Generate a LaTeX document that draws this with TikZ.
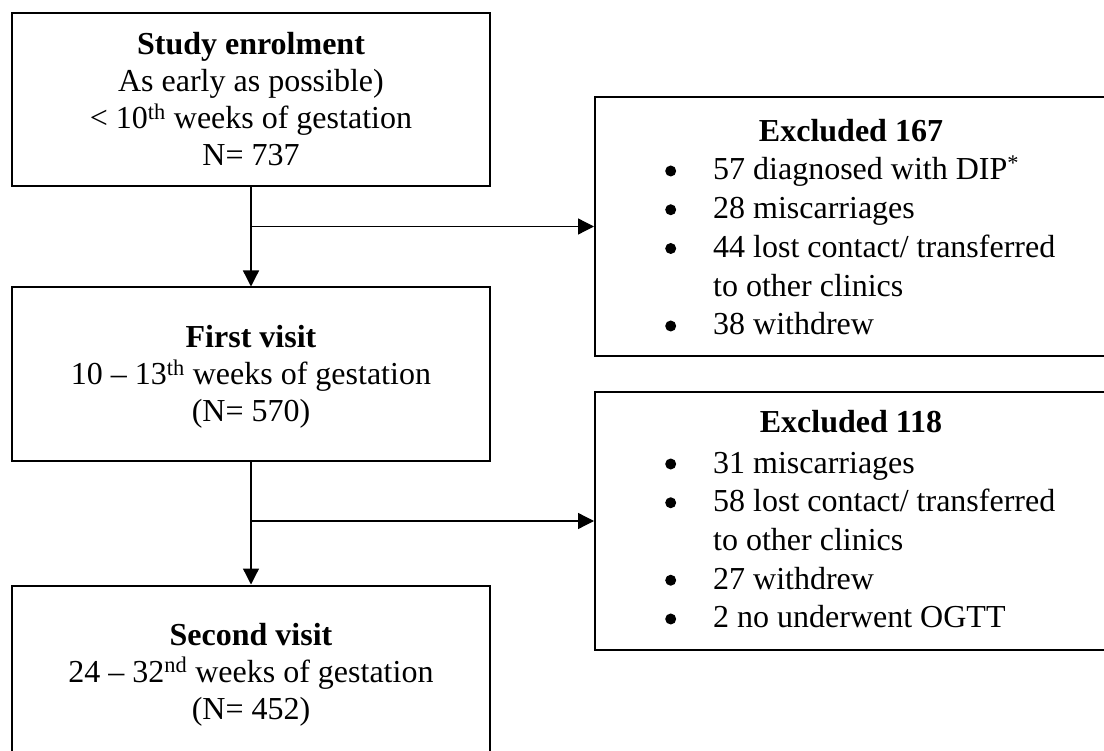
\documentclass[tikz,border=0pt]{standalone}
\usepackage{fontspec}
\setmainfont{Liberation Serif}
\usetikzlibrary{arrows.meta}
\newcommand{\bigbul}{\tikz[baseline={(0pt,-9pt)}]\fill (5.5pt,0pt) circle[radius=5.5pt];}
\begin{document}
\begin{tikzpicture}[x=1pt,y=-1pt,
  box/.style={draw, line width=2pt, inner sep=0pt, minimum width=478pt, minimum height=173pt},
  exbox/.style={draw, line width=2pt, inner sep=0pt, minimum width=530pt},
  txt/.style={anchor=base, inner sep=0pt, font=\fontsize{32}{37}\selectfont},
  lst/.style={anchor=base west, inner sep=0pt, font=\fontsize{32}{38.75}\selectfont},
  arr/.style={line width=1.3pt, -{Triangle[length=16pt,width=16pt]}}]
\useasboundingbox (0,0) rectangle (1104,751);
\clip (0,0) rectangle (1104,751);
\fill[white] (0,0) rectangle (1104,751);
% boxes
\node[box] (enrol) at (251,99.5) {};
\node[box] (visit1) at (251,374) {};
\node[box] (visit2) at (251,672) {};
\node[exbox, minimum height=259pt] (ex1) at (860,226.5) {};
\node[exbox, minimum height=258pt] (ex2) at (860,521) {};
% texts
\node[txt] (t1) at (251,55) {\begin{tabular}[t]{@{}c@{}}\textbf{Study enrolment}\\ As early as possible)\\ < 10\textsuperscript{th} weeks of gestation\\ N= 737\end{tabular}};
\node[txt] (t2) at (251,348) {\begin{tabular}[t]{@{}c@{}}\textbf{First visit}\\ 10 – 13\textsuperscript{th} weeks of gestation\\ (N= 570)\end{tabular}};
\node[txt] (t3) at (251,645) {\begin{tabular}[t]{@{}c@{}}\textbf{Second visit}\\ 24 – 32\textsuperscript{nd} weeks of gestation\\ (N= 452)\end{tabular}};
\node[txt] (h1) at (851,142) {\textbf{Excluded 167}};
\node[lst] (l1) at (665,180) {\begin{tabular}[t]{@{}p{48pt}@{}l@{}}
\bigbul & 57 diagnosed with DIP\textsuperscript{*}\\
\bigbul & 28 miscarriages\\
\bigbul & 44 lost contact/ transferred\\
 & to other clinics\\
\bigbul & 38 withdrew\end{tabular}};
\node[txt] (h2) at (851,433) {\textbf{Excluded 118}};
\node[lst] (l2) at (665,473) {\begin{tabular}[t]{@{}p{48pt}@{}l@{}}
\bigbul & 31 miscarriages\\
\bigbul & 58 lost contact/ transferred\\
 & to other clinics\\
\bigbul & 27 withdrew\\
\bigbul & 2 no underwent OGTT\end{tabular}};
% connectors
\draw[arr] (enrol.south) -- (visit1.north);
\coordinate (b1) at (enrol.south |- ex1.west);
\draw[arr] (b1) -- (ex1.west);
\draw[arr] (visit1.south) -- (visit2.north);
\coordinate (b2) at (visit1.south |- ex2.west);
\draw[arr] (b2) -- (ex2.west);
\end{tikzpicture}
\end{document}
